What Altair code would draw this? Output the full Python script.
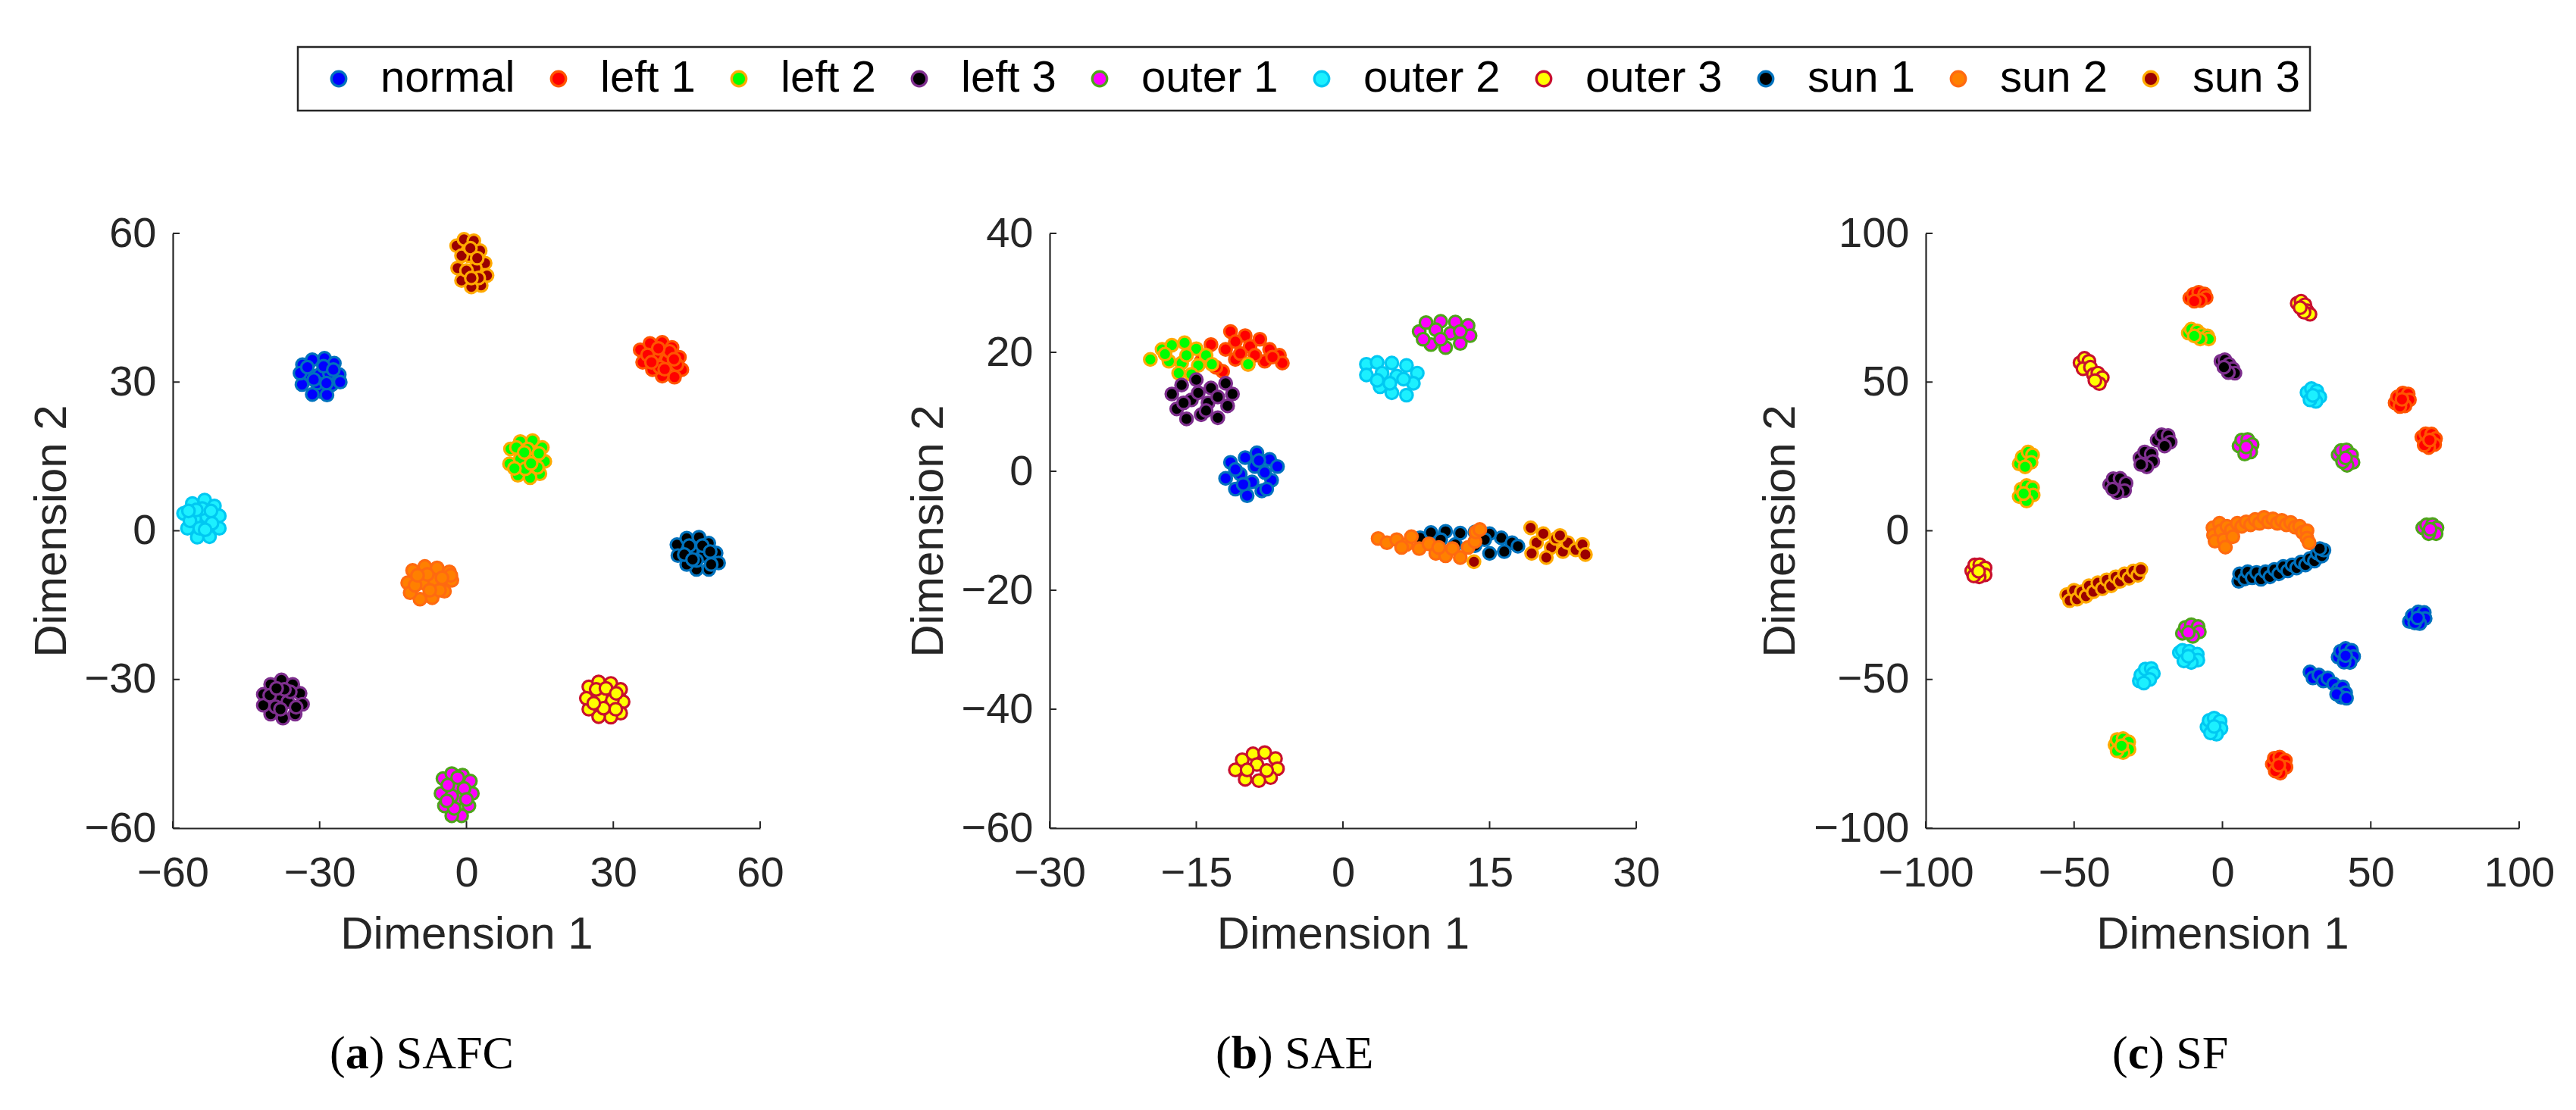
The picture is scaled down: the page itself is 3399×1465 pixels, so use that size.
import altair as alt
import pandas as pd

# ---------------- classes and colours ----------------
CLASSES = ["normal", "left 1", "left 2", "left 3", "outer 1",
           "outer 2", "outer 3", "sun 1", "sun 2", "sun 3"]
FILL_COLORS = ["#0000FF", "#FF0000", "#00FF00", "#000000", "#FF00FF",
               "#1CF0FF", "#FFFF00", "#000000", "#FF8000", "#9B0000"]
EDGE_COLORS = ["#0072BD", "#FF5500", "#FFAA00", "#7E2F8E", "#4DA51A",
               "#00C8F2", "#C8102E", "#0072BD", "#FF6A10", "#FFAA00"]

# ---------------- (a) SAFC ----------------
SAFC_X_TICKS = [-60, -30, 0, 30, 60]
SAFC_Y_TICKS = [-60, -30, 0, 30, 60]
SAFC = {
    "normal": [(-33.5, 33.5), (-31.5, 34.5), (-29, 34.8), (-27, 33.8), (-26, 31.5), (-27.5, 29.5),
               (-29.5, 28), (-31.5, 27.5), (-33.6, 29.5), (-32, 31.5), (-30, 31.5), (-28, 31.8),
               (-30.5, 29.8), (-34, 31.8), (-25.8, 30), (-28.5, 27.4), (-32.5, 33), (-29.2, 33.2),
               (-27.2, 32.5), (-31.2, 30.5), (-28.6, 29.8)],
    "left 1": [(35.5, 36.5), (37.5, 37.8), (40, 38), (42, 37), (43.5, 35), (44, 32.5), (42.5, 31),
               (40, 31.2), (38, 32.5), (36, 34), (38.5, 35.5), (41, 34.5), (39.5, 33), (41.5, 36.2),
               (37, 35.5), (43, 33.5), (39.2, 36.8), (40.5, 32.6), (37.8, 34), (42.4, 34.6)],
    "left 2": [(9, 16.5), (11, 18), (13.5, 18.2), (15.5, 16.8), (16, 14), (15, 11.5), (13, 10.7),
               (10.5, 11.2), (8.8, 13.5), (11, 14.5), (13.5, 14.8), (12, 12.5), (14.5, 12.8),
               (10.2, 16.8), (12.5, 16.5), (9.8, 12.6), (14.8, 15.6), (11.8, 15.8), (13.2, 13.6)],
    "left 3": [(-41.5, -33), (-40, -31), (-37.8, -30.1), (-35.5, -31), (-34, -32.8), (-33.5, -35),
               (-35, -37), (-37.5, -37.8), (-40, -37), (-41.5, -35.2), (-38.5, -33.5), (-36.5, -34.5),
               (-39, -35.5), (-36, -32.5), (-38, -36), (-40.2, -33.2), (-37.2, -32), (-34.8, -35.6),
               (-38.8, -31.8)],
    "outer 1": [(-4.8, -50), (-3, -49), (-0.8, -49.3), (0.8, -50.5), (1.2, -53), (0.5, -55.5),
                (-1, -57.5), (-3, -57.5), (-4.5, -55.5), (-5.2, -53), (-2, -51.5), (-1.5, -54),
                (-3, -53.5), (-0.5, -52), (-2.5, -56), (-3.8, -51.3), (0, -54.2), (-4, -54.5),
                (-1.8, -49.8)],
    "outer 2": [(-57.8, 3.5), (-56, 5.5), (-53.5, 6.2), (-51.5, 5), (-50.5, 3), (-50.5, 0.5),
                (-52.5, -1.2), (-55, -1.3), (-57, 0.5), (-55.5, 2.5), (-53, 2.8), (-54, 4.5),
                (-52, 1.5), (-56.5, 2), (-54.5, 0.5), (-52.2, 4), (-55.2, 4.2), (-53.4, 0.2),
                (-56.8, 4)],
    "outer 3": [(25, -31.5), (27, -30.5), (29.5, -30.8), (31.5, -32), (32, -34.5), (31.5, -36.8),
                (29.5, -37.6), (27, -37.5), (25, -36), (24.5, -33.8), (27.5, -33.5), (29.8, -34.2),
                (28, -35.8), (26.5, -32), (30.5, -36), (28.5, -31.8), (26, -34.8), (30.6, -32.8)],
    "sun 1": [(43, -2.8), (45, -1.5), (47.5, -1.3), (49.5, -2.5), (51, -4.5), (51.5, -6.5),
              (49.5, -7.8), (47, -7.8), (45, -6.8), (43.2, -5), (46, -4), (48.5, -5), (47, -6),
              (45.5, -3), (50, -6.8), (44.5, -4.8), (48.2, -3), (46.2, -5.8), (49.8, -4.2)],
    "sun 2": [(-12, -10.5), (-11, -8), (-8.5, -7.2), (-6, -7.5), (-3.5, -8.3), (-3, -10),
              (-4.5, -12.2), (-7, -13.5), (-9.5, -13.8), (-11.5, -12.5), (-9, -10.5), (-6.5, -10),
              (-8, -8.8), (-5.5, -12), (-10.5, -11), (-3.2, -9), (-7.5, -12), (-10, -9),
              (-5, -9.5)],
    "sun 3": [(-2, 57.5), (-0.5, 58.8), (1.5, 58.5), (2.8, 56.5), (3.8, 54), (4.2, 51.5), (3, 49.5),
              (1, 49.2), (-1, 50.5), (-1.8, 53), (0.5, 55.5), (1.8, 53), (0, 52.5), (2.5, 51),
              (-1, 55.5), (0.8, 57), (2.2, 55), (1, 51)],
}

# ---------------- (b) SAE ----------------
SAE_X_TICKS = [-30, -15, 0, 15, 30]
SAE_Y_TICKS = [-60, -40, -20, 0, 20, 40]
SAE = {
    "normal": [(-11.5, 1.5), (-10, 2.3), (-8.8, 3.1), (-7.5, 2), (-6.7, 0.8), (-7.3, -1.5),
               (-8.3, -3.3), (-9.8, -4.1), (-11, -3), (-12, -1.2), (-10.5, -0.5), (-9, 0.8),
               (-9.3, -1.8), (-8, -0.2), (-11, 0.3), (-7.8, -3), (-10.2, -2.2), (-8.6, 1.8)],
    "left 1": [(-14.5, 18.5), (-13.5, 21.3), (-12, 20.5), (-11.5, 23.5), (-10, 22.8), (-9.5, 21),
               (-8.5, 22.2), (-7.5, 20.5), (-6.5, 19.5), (-6.2, 18.2), (-8, 18.5), (-9.7, 18),
               (-11, 18.8), (-12.3, 16.8), (-10.5, 19.8), (-13, 17.5), (-7.2, 19.2), (-11, 21.8),
               (-9, 19.5)],
    "left 2": [(-19.7, 18.8), (-18.5, 20.5), (-17.5, 21.2), (-16.2, 21.6), (-15, 20.6), (-14, 19.5),
               (-13.4, 18), (-14.8, 17.8), (-16.5, 18.2), (-17.8, 18.5), (-16.8, 16.5),
               (-15.5, 16.3), (-18.2, 19.7), (-16, 19.5), (-9.7, 18)],
    "left 3": [(-17.5, 13), (-16.5, 14.5), (-15, 15.4), (-13.5, 14), (-12, 14.8), (-11.3, 13),
               (-11.8, 11), (-12.8, 9), (-14.5, 9.5), (-16, 8.8), (-17, 10.5), (-15.5, 12),
               (-13.8, 11.5), (-14.8, 13.2), (-12.8, 12.5), (-16.3, 11.5), (-14, 10.2)],
    "outer 1": [(7.8, 23.5), (8.5, 25), (10, 25.2), (11.5, 25.1), (12.8, 24.5), (13, 22.8),
                (12, 21.5), (10.5, 20.8), (9, 21.3), (8.2, 22.2), (9.5, 23.8), (11, 23.2),
                (10, 22.2), (12, 23.5)],
    "outer 2": [(2.4, 18), (3.5, 18.3), (5, 18.2), (6.5, 17.8), (7.6, 16.5), (7.2, 14.8),
                (6.5, 12.8), (5, 13.2), (3.8, 14.2), (2.4, 16.2), (4, 16.5), (5.5, 16),
                (4.8, 14.8), (6.2, 15.5), (3.5, 15.3)],
    "outer 3": [(-11, -50.2), (-10.3, -48.5), (-9.2, -47.5), (-8, -47.3), (-6.9, -48.3),
                (-6.7, -50), (-7.4, -51.5), (-8.6, -52), (-10, -51.8), (-8.8, -49.3),
                (-9.8, -50.2), (-7.8, -50.3)],
    "sun 1": [(7.9, -11.2), (9, -10.3), (10.5, -10.1), (12, -10.4), (13.5, -10.2), (15, -10.5),
              (16.2, -11.2), (17.3, -12), (17.9, -12.6), (16.5, -13.5), (15, -13.8),
              (13.5, -12.5), (11.5, -12.3), (10, -11.5), (14.5, -11.5)],
    "sun 2": [(3.6, -11.3), (4.5, -12), (5.5, -11.5), (6.5, -12.3), (7, -11), (7.8, -13),
              (8.8, -12.2), (9.5, -13.8), (10.5, -14.2), (11.2, -13), (12, -14.5), (12.8, -12.8),
              (13.5, -11.8), (13.6, -10.2), (6, -12.8), (9.8, -12.8), (14, -9.8)],
    "sun 3": [(19.2, -9.5), (19.8, -12), (19.3, -13.8), (20.5, -10.5), (21.3, -12.8), (21.8, -11.3),
              (22.5, -13.5), (23, -12), (23.8, -13.2), (24.5, -12.3), (24.8, -14), (20.8, -14.5),
              (22.2, -10.8), (13.4, -15.2)],
}

# ---------------- (c) SF ----------------
SF_X_TICKS = [-100, -50, 0, 50, 100]
SF_Y_TICKS = [-100, -50, 0, 50, 100]
SF = {
    "normal": [(63, -30.5), (64, -28.5), (66, -27.3), (68, -27.5), (68.3, -29.5), (66.5, -31.2),
               (64.8, -31), (65.8, -29.3),
               (39, -42.5), (39.8, -40.5), (41.5, -39.6), (43.5, -40.2), (44.2, -42.3), (43, -44.3),
               (41, -44.2), (41.5, -42),
               (29.5, -47.5), (30.5, -49.5), (32.5, -48.5), (34, -50.5), (35.5, -49.5), (37.5, -51.5),
               (39, -53.5), (40.5, -52.5), (41.5, -54.5), (40, -56), (38.5, -55), (41.8, -56.3)],
    "left 1": [(-11, 78.2), (-9.8, 79.5), (-8, 80.2), (-6, 79.6), (-5.5, 78.4), (-7.5, 77.4),
               (-9.5, 77.2),
               (58.2, 43), (59, 45), (60.8, 46.3), (62.6, 46), (63, 44), (61.5, 42), (59.8, 41.8),
               (60.5, 44.2),
               (67.2, 31.5), (68.5, 32.6), (70.5, 32.5), (71.8, 31), (71.5, 29), (69.5, 28),
               (68, 28.8), (69.8, 30.5),
               (16.8, -78.5), (17.5, -76.5), (19.3, -76.1), (21.2, -77.2), (21.4, -79.5),
               (19.5, -81.5), (17.8, -80.8), (19, -78.8)],
    "left 2": [(-11.5, 66.5), (-10.5, 67.8), (-8.5, 67.2), (-7, 66), (-5, 65.5), (-4.6, 64.5),
               (-7.5, 64.5), (-9.5, 65.5),
               (-68.5, 22.5), (-67.5, 24.8), (-65.5, 26.5), (-64, 25.5), (-64.5, 23), (-66.5, 21.5),
               (-68.5, 11.5), (-67.8, 14), (-66, 15.2), (-64, 14.5), (-63.8, 12), (-66, 10),
               (-67, 12.5),
               (-36.2, -72), (-35.5, -70.2), (-33.5, -69.9), (-31.6, -71), (-31.5, -73.5),
               (-33.5, -74.6), (-35.5, -74), (-34, -72.3)],
    "left 3": [(-0.5, 57), (0.8, 57.5), (2.2, 56), (3.5, 54.5), (4.2, 53), (2, 53.2), (0.5, 55),
               (-22, 30.5), (-20.5, 32.3), (-18.3, 32), (-17.6, 29.8), (-19.5, 28.5),
               (-27.8, 24.5), (-26.2, 26.5), (-24, 25.8), (-23.5, 23.3), (-25.5, 21.5), (-27.5, 22.3),
               (-38, 15.5), (-36.8, 17.5), (-34.5, 17.6), (-32.5, 16), (-33, 13.5), (-35.5, 12.8),
               (-37, 14)],
    "outer 1": [(5.6, 28.5), (6.5, 30.5), (8.5, 30.7), (10, 29), (9.5, 26.5), (7.5, 25.8), (8, 28.2),
                (39, 25.5), (40, 27), (41.8, 27.2), (43.5, 25.5), (44, 23), (42, 22), (40.5, 23.2),
                (41.5, 24.5),
                (67.5, 1), (68.8, 2), (70.8, 2.1), (72.3, 1), (72, -1), (69.5, -1), (70, 0.5),
                (-13.5, -34.5), (-12.5, -32.5), (-10.5, -31.6), (-8.2, -32.2), (-7.8, -34),
                (-10, -35.5), (-11.5, -34.2)],
    "outer 2": [(28.5, 46.5), (30, 47.8), (31.8, 47), (32.8, 45), (31.5, 43.5), (29.5, 44),
                (30.5, 45.5),
                (-14.5, -41), (-13.5, -40.2), (-11.2, -40.5), (-8.5, -41.5), (-8.3, -43.5),
                (-10.5, -44.3), (-13, -43.8), (-11.5, -42.2),
                (-28, -50.5), (-27.5, -48.5), (-26, -46.5), (-24, -46.3), (-23.3, -48), (-24.5, -50),
                (-26.5, -51.2),
                (-5.2, -66), (-4.5, -63.8), (-2.8, -63), (-0.8, -64), (-0.5, -66.5), (-2, -68.4),
                (-4, -68), (-2.8, -65.8)],
    "outer 3": [(25.2, 76.5), (26.5, 77.2), (27.8, 76), (28.5, 74), (29.5, 72.8), (27.5, 73.5),
                (26.2, 75),
                (-48, 56.5), (-46.5, 58), (-45, 57), (-47, 54.5), (-44.5, 55),
                (-43.5, 52.5), (-42, 53), (-40.5, 51.5), (-41.5, 49.5), (-43, 50.5),
                (-84.5, -13.5), (-83.5, -11.5), (-81.8, -11.4), (-80, -12.5), (-80, -14.8),
                (-82, -15.5), (-83.8, -15.2), (-82.2, -13.6)],
    "sun 1": [(5.5, -17), (5.8, -14.5), (7.5, -16.2), (8.5, -13.8), (10, -15.8), (11.5, -14),
              (13, -16.3), (14.5, -13.8), (16, -15.5), (17.5, -13), (19, -14.5), (20.5, -12),
              (22, -13.5), (23.5, -11.5), (25, -12.5), (26.5, -10.5), (28, -11.5), (29.5, -9.3),
              (31, -10.2), (32, -7.5), (33.5, -8.5), (34.2, -6.5), (32.8, -6)],
    "sun 2": [(-3.2, 1), (-3, -1.5), (-2.5, -3.5), (-1, 2.5), (-0.5, 0), (0.5, -3), (1, -5.5),
              (1.5, 1.5), (3, 0.2), (3.5, -2), (5, 2.5), (6.5, 1.5), (8, 3), (9.5, 2), (11, 3.8),
              (12.5, 2.5), (14, 4.5), (15.5, 3), (17, 4), (18.5, 2.5), (20, 3.5), (21.5, 2),
              (23, 2.8), (24.5, 1.2), (26, 1.5), (27, -0.5), (28.5, 0), (28.5, -2.5), (29.2, -4)],
    "sun 3": [(-52.5, -21.5), (-51.5, -23.5), (-50, -20), (-49, -23), (-47.5, -20.5), (-46, -22),
              (-45, -18.5), (-43.5, -20.5), (-42, -17.5), (-40.5, -19.5), (-39, -16.5),
              (-37.5, -18.5), (-36, -15.5), (-34.5, -17), (-33, -14.5), (-31.5, -16), (-30, -13.5),
              (-28.5, -15), (-27.5, -13)],
}

CAPTION_LETTERS = ["a", "b", "c"]
CAPTION_NAMES = ["SAFC", "SAE", "SF"]

# ---------------- styling ----------------
AXIS_COLOR = "#262626"
SANS = "Liberation Sans"
SERIF = "Liberation Serif"
TICK_LEN = 9
PANEL_H = 785
CAP_SIZE = 62
CAP_Y = 1102
BOLD_W = {"a": 0.5, "b": 0.556, "c": 0.444}


def to_frame(points):
    rows = []
    for cls in CLASSES:
        for (x, y) in points.get(cls, []):
            rows.append({"x": x, "y": y, "cls": cls})
    return pd.DataFrame(rows)


def caption_layers(letter, name, x0):
    w_paren = 0.333 * CAP_SIZE
    w_bold = BOLD_W[letter] * CAP_SIZE
    parts = [("(", "normal", x0), (letter, "bold", x0 + w_paren),
             (") " + name, "normal", x0 + w_paren + w_bold)]
    out = []
    for text, weight, px in parts:
        out.append(
            alt.Chart(pd.DataFrame({"t": [text]}))
            .mark_text(font=SERIF, fontSize=CAP_SIZE, fontWeight=weight, color="#000000",
                       align="left", baseline="alphabetic")
            .encode(text="t:N", x=alt.value(px), y=alt.value(CAP_Y))
        )
    return out


def panel(points, xdom, ydom, xticks, yticks, width, letter, name, cap_x):
    df = to_frame(points)
    xs = alt.Scale(domain=xdom, nice=False, zero=False)
    ys = alt.Scale(domain=ydom, nice=False, zero=False)
    x_axis = alt.Axis(values=xticks, title="Dimension 1", labelPadding=32, titlePadding=24)
    y_axis = alt.Axis(values=yticks, title="Dimension 2", labelPadding=22, titlePadding=12)
    pts = alt.Chart(df).mark_point(
        filled=True, shape="circle", size=270, strokeWidth=3.2, opacity=1
    ).encode(
        x=alt.X("x:Q", scale=xs, axis=x_axis, title="Dimension 1"),
        y=alt.Y("y:Q", scale=ys, axis=y_axis, title="Dimension 2"),
        fill=alt.Fill("cls:N", scale=alt.Scale(domain=CLASSES, range=FILL_COLORS),
                      legend=alt.Legend(title=None)),
        stroke=alt.Stroke("cls:N", scale=alt.Scale(domain=CLASSES, range=EDGE_COLORS),
                          legend=alt.Legend(title=None)),
    )
    xt = alt.Chart(pd.DataFrame({"x": xticks})).mark_rule(color=AXIS_COLOR, strokeWidth=2).encode(
        x=alt.X("x:Q", scale=xs, axis=x_axis, title="Dimension 1"),
        y=alt.value(PANEL_H), y2=alt.value(PANEL_H - TICK_LEN))
    yt = alt.Chart(pd.DataFrame({"y": yticks})).mark_rule(color=AXIS_COLOR, strokeWidth=2).encode(
        y=alt.Y("y:Q", scale=ys, axis=y_axis, title="Dimension 2"),
        x=alt.value(0), x2=alt.value(TICK_LEN))
    return alt.layer(pts, xt, yt, *caption_layers(letter, name, cap_x)).properties(
        width=width, height=PANEL_H)


pa = panel(SAFC, [-60, 60], [-60, 60], SAFC_X_TICKS, SAFC_Y_TICKS, 775,
           CAPTION_LETTERS[0], CAPTION_NAMES[0], 207)
pb = panel(SAE, [-30, 30], [-60, 40], SAE_X_TICKS, SAE_Y_TICKS, 774,
           CAPTION_LETTERS[1], CAPTION_NAMES[1], 219)
pc = panel(SF, [-100, 100], [-100, 100], SF_X_TICKS, SF_Y_TICKS, 783,
           CAPTION_LETTERS[2], CAPTION_NAMES[2], 246)

chart = alt.hconcat(pa, pb, pc, spacing=382, bounds="flush").resolve_scale(
    x="independent", y="independent", fill="shared", stroke="shared"
).properties(
    padding={"left": 30, "top": 52, "right": 5, "bottom": 5}
).configure_view(
    stroke=None
).configure_axis(
    labelFont=SANS, labelFontSize=56, labelColor=AXIS_COLOR,
    titleFont=SANS, titleFontSize=60, titleFontWeight="normal", titleColor=AXIS_COLOR,
    domainColor=AXIS_COLOR, domainWidth=2.2, ticks=False, tickSize=0, grid=False,
    labelFlush=False, labelOverlap=False
).configure_legend(
    orient="none", legendX=165, legendY=-246, direction="horizontal", columns=10,
    labelFont=SANS, labelFontSize=58, labelColor="#000000", labelLimit=500,
    symbolType="circle", symbolSize=380, symbolStrokeWidth=3.3, symbolOpacity=1,
    padding=13, symbolOffset=12, columnPadding=16, labelOffset=26,
    strokeColor=AXIS_COLOR, strokeWidth=2.5, fillColor="#FFFFFF"
)

chart.save("out.html", embed_options={"renderer": "svg", "actions": False})
